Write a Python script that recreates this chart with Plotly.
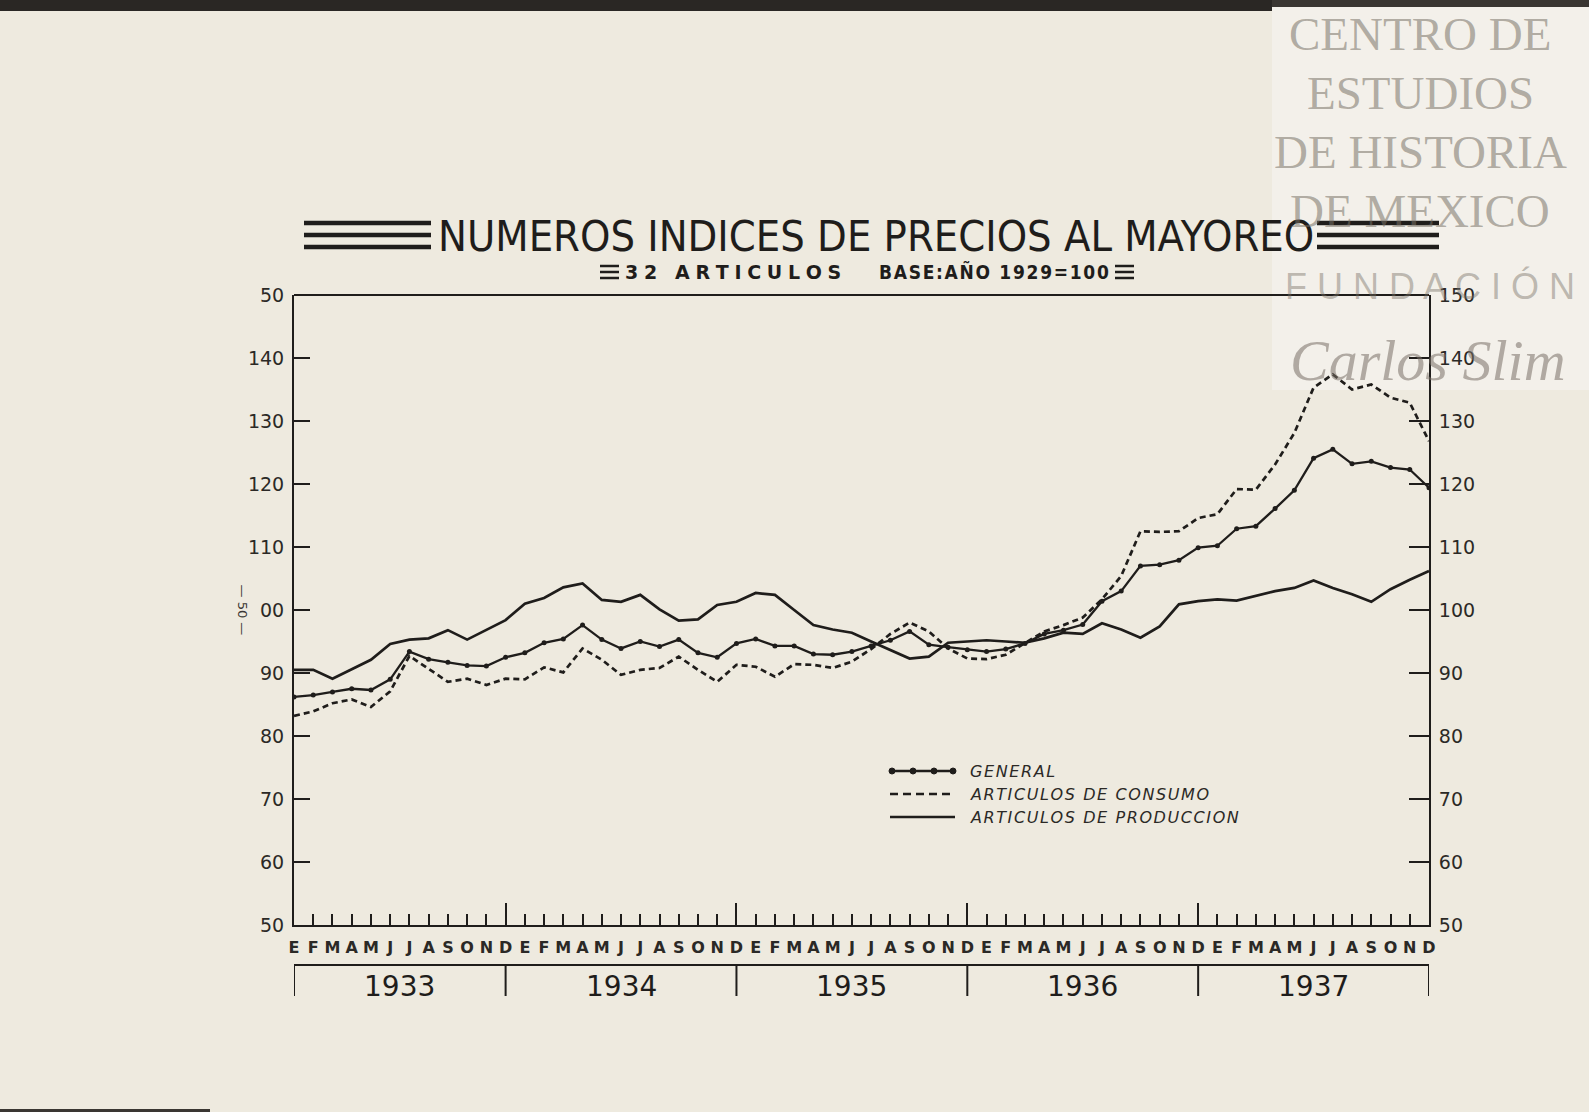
import plotly.graph_objects as go

years = ["1933", "1934", "1935", "1936", "1937"]
month_letters = ["E", "F", "M", "A", "M", "J", "J", "A", "S", "O", "N", "D"]

general = [86.2, 86.5, 87.0, 87.5, 87.3, 89.0, 93.4, 92.2, 91.7, 91.2, 91.1, 92.5,
           93.2, 94.8, 95.4, 97.6, 95.3, 93.9, 95.0, 94.2, 95.3, 93.2, 92.5, 94.7,
           95.4, 94.3, 94.3, 93.0, 92.9, 93.4, 94.3, 95.2, 96.6, 94.5, 94.1, 93.7,
           93.4, 93.8, 94.7, 96.2, 96.8, 97.7, 101.4, 103.0, 107.0, 107.2, 107.9, 109.9,
           110.2, 112.9, 113.3, 116.1, 119.0, 124.1, 125.5, 123.2, 123.6, 122.6, 122.3, 119.4]

consumo = [83.2, 83.9, 85.2, 85.8, 84.6, 87.1, 92.7, 90.6, 88.6, 89.1, 88.1, 89.1,
           89.0, 90.9, 90.1, 93.9, 92.1, 89.7, 90.5, 90.8, 92.6, 90.5, 88.6, 91.3,
           91.0, 89.4, 91.4, 91.3, 90.8, 91.8, 93.8, 96.2, 98.0, 96.6, 93.9, 92.3,
           92.2, 92.9, 94.7, 96.6, 97.6, 98.8, 101.7, 105.4, 112.5, 112.4, 112.5, 114.6,
           115.2, 119.2, 119.1, 123.1, 128.1, 135.3, 137.4, 135.0, 135.8, 133.7, 132.9, 126.8]

produccion = [90.5, 90.5, 89.1, 90.6, 92.1, 94.6, 95.3, 95.5, 96.8, 95.3, 96.8, 98.4,
              101.0, 101.9, 103.6, 104.2, 101.6, 101.3, 102.4, 100.1, 98.3, 98.5, 100.8, 101.3,
              102.7, 102.4, 100.0, 97.6, 96.9, 96.4, 95.0, 93.6, 92.3, 92.6, 94.8, 95.0,
              95.2, 95.0, 94.8, 95.5, 96.4, 96.2, 97.9, 96.9, 95.6, 97.4, 100.9, 101.4,
              101.7, 101.5, 102.2, 103.0, 103.5, 104.7, 103.5, 102.5, 101.3, 103.3, 104.8, 106.2]

left_ticks = [150, 140, 130, 120, 110, 100, 90, 80, 70, 60, 50]
left_tick_text = ["50", "140", "130", "120", "110", "00", "90", "80", "70", "60", "50"]
right_tick_text = ["150", "140", "130", "120", "110", "100", "90", "80", "70", "60", "50"]

title_text = "NUMEROS INDICES DE PRECIOS AL MAYOREO"
subtitle_left = "32 ARTICULOS"
subtitle_right = "BASE:AÑO 1929=100"
legend_names = ["GENERAL", "ARTICULOS DE CONSUMO", "ARTICULOS DE PRODUCCION"]
watermark_lines = ["CENTRO DE", "ESTUDIOS", "DE HISTORIA", "DE MEXICO"]

n = len(general)
x = list(range(n))
tick_text = month_letters * len(years)
dec_idx = [i for i in x if tick_text[i] == "D"]

INK = "#1f1d1b"
BG = "#eeeadf"
AXFONT = dict(family="DejaVu Sans", size=19, color="#2b2926")
WM = "rgba(120,112,102,0.55)"

fig = go.Figure()
fig.add_trace(go.Scatter(x=x, y=produccion, mode="lines", name=legend_names[2],
                         line=dict(color=INK, width=2.7), showlegend=False))
fig.add_trace(go.Scatter(x=x, y=consumo, mode="lines", name=legend_names[1],
                         line=dict(color=INK, width=2.7, dash="6px,4px"), showlegend=False))
fig.add_trace(go.Scatter(x=x, y=general, mode="lines+markers", name=legend_names[0],
                         line=dict(color=INK, width=2.3),
                         marker=dict(size=5, color=INK), showlegend=False))
# invisible trace to activate secondary axes
fig.add_trace(go.Scatter(x=[x[0]], y=[general[0]], xaxis="x2", yaxis="y2",
                         mode="markers", marker=dict(opacity=0), showlegend=False,
                         hoverinfo="skip"))

fig.update_layout(
    width=1589, height=1112,
    paper_bgcolor=BG, plot_bgcolor=BG,
    margin=dict(l=294, r=160, t=295, b=187),
    xaxis=dict(range=[0, n - 1], tickvals=x, ticktext=tick_text, ticks="inside",
               ticklen=11, tickwidth=1.6, tickcolor=INK, showgrid=False, zeroline=False,
               showline=True, linecolor=INK, linewidth=2, mirror=False,
               tickfont=dict(family="DejaVu Sans", size=16, color="#2b2926", weight="bold"),
               ticklabelstandoff=7, fixedrange=True),
    xaxis2=dict(range=[0, n - 1], overlaying="x", side="bottom", tickvals=dec_idx,
                ticktext=[""] * len(dec_idx), ticks="inside", ticklen=22, tickwidth=1.6,
                tickcolor=INK, showgrid=False, zeroline=False, showline=False),
    yaxis=dict(range=[50, 150], tickvals=left_ticks, ticktext=left_tick_text,
               ticks="inside", ticklen=16, tickwidth=1.6, tickcolor=INK,
               showgrid=False, zeroline=False, showline=True, linecolor=INK,
               linewidth=2, mirror=False, tickfont=AXFONT, ticklabelstandoff=4),
    yaxis2=dict(range=[50, 150], overlaying="y", side="right", tickvals=left_ticks,
                ticktext=right_tick_text, ticks="inside", ticklen=20, tickwidth=1.6,
                tickcolor=INK, showgrid=False, zeroline=False, showline=True,
                linecolor=INK, linewidth=2, tickfont=AXFONT, ticklabelstandoff=4),
    showlegend=False,
)


def px_x(px):
    return (px - 294) / (1429 - 294)


def px_y(py):
    return (925 - py) / (925 - 295)


shapes = []
# photo background details
shapes.append(dict(type="rect", xref="paper", yref="paper", x0=px_x(1272), x1=px_x(1600),
                   y0=px_y(390), y1=px_y(-5), fillcolor="#f3f0ea", line=dict(width=0),
                   layer="below"))
shapes.append(dict(type="rect", xref="paper", yref="paper", x0=px_x(-5), x1=px_x(1272),
                   y0=px_y(11), y1=px_y(-5), fillcolor="#2a2724", line=dict(width=0),
                   layer="below"))
shapes.append(dict(type="rect", xref="paper", yref="paper", x0=px_x(1272), x1=px_x(1600),
                   y0=px_y(7), y1=px_y(-5), fillcolor="#3a3632", line=dict(width=0),
                   layer="below"))
shapes.append(dict(type="rect", xref="paper", yref="paper", x0=px_x(-5), x1=px_x(210),
                   y0=px_y(1120), y1=px_y(1109), fillcolor="#3a3632", line=dict(width=0),
                   layer="below"))
# top frame line
shapes.append(dict(type="line", xref="paper", yref="paper", x0=0, x1=1, y0=1, y1=1,
                   line=dict(color=INK, width=2)))
# year bracket below month labels
shapes.append(dict(type="line", xref="x", yref="paper", x0=0, x1=n - 1, y0=px_y(965),
                   y1=px_y(965), line=dict(color=INK, width=2)))
for xv in [0] + dec_idx:
    shapes.append(dict(type="line", xref="x", yref="paper", x0=xv, x1=xv, y0=px_y(965),
                       y1=px_y(996), line=dict(color=INK, width=2)))

# title decorative bars
for (xa, xb) in [(304, 431), (1317, 1439)]:
    for yy in [223, 235, 247]:
        shapes.append(dict(type="line", xref="paper", yref="paper", x0=px_x(xa), x1=px_x(xb),
                           y0=px_y(yy), y1=px_y(yy), line=dict(color=INK, width=4.5)))
for (xa, xb) in [(600, 619), (1115, 1134)]:
    for yy in [266, 272, 278]:
        shapes.append(dict(type="line", xref="paper", yref="paper", x0=px_x(xa), x1=px_x(xb),
                           y0=px_y(yy), y1=px_y(yy), line=dict(color=INK, width=2.5)))

# custom legend samples
leg_rows = [771, 794, 817]
lx0, lx1 = 890, 955
shapes.append(dict(type="line", xref="paper", yref="paper", x0=px_x(lx0), x1=px_x(lx1),
                   y0=px_y(leg_rows[0]), y1=px_y(leg_rows[0]), line=dict(color=INK, width=2.4)))
for cx in [892, 913, 934, 953]:
    shapes.append(dict(type="circle", xref="paper", yref="paper",
                       x0=px_x(cx - 3), x1=px_x(cx + 3), y0=px_y(leg_rows[0] + 3),
                       y1=px_y(leg_rows[0] - 3), fillcolor=INK, line=dict(color=INK, width=1)))
shapes.append(dict(type="line", xref="paper", yref="paper", x0=px_x(lx0), x1=px_x(lx1),
                   y0=px_y(leg_rows[1]), y1=px_y(leg_rows[1]),
                   line=dict(color=INK, width=2.6, dash="8px,5px")))
shapes.append(dict(type="line", xref="paper", yref="paper", x0=px_x(lx0), x1=px_x(lx1),
                   y0=px_y(leg_rows[2]), y1=px_y(leg_rows[2]), line=dict(color=INK, width=2.4)))
fig.update_layout(shapes=shapes)

HAIR = "\u200a"
THIN = "\u2009"


def spaced(s, sep=HAIR):
    return sep.join(list(s))


ann = []
ann.append(dict(text=title_text, xref="paper", yref="paper", x=px_x(876), y=px_y(236),
                showarrow=False, font=dict(family="DejaVu Sans Condensed", size=43, color=INK),
                xanchor="center", yanchor="middle"))
ann.append(dict(text="<b>" + spaced(subtitle_left, THIN + HAIR) + "</b>", xref="paper",
                yref="paper", x=px_x(623), y=px_y(272), showarrow=False,
                font=dict(family="DejaVu Sans", size=19, color=INK),
                xanchor="left", yanchor="middle"))
ann.append(dict(text="<b>" + spaced(subtitle_right) + "</b>", xref="paper", yref="paper",
                x=px_x(1111), y=px_y(272), showarrow=False,
                font=dict(family="DejaVu Sans Condensed", size=19, color=INK),
                xanchor="right", yanchor="middle"))
for k, nm in enumerate(legend_names):
    ann.append(dict(text="<i>" + spaced(nm) + "</i>", xref="paper", yref="paper",
                    x=px_x(968), y=px_y(leg_rows[k]), showarrow=False, xanchor="left",
                    yanchor="middle",
                    font=dict(family="DejaVu Sans", size=16, color="#2b2926")))
# year labels
bounds = [0] + dec_idx
for k, yr in enumerate(years):
    ann.append(dict(text=yr, xref="x", yref="paper", x=(bounds[k] + bounds[k + 1]) / 2,
                    y=px_y(986), showarrow=False, yanchor="middle",
                    font=dict(family="DejaVu Sans", size=28, color=INK)))
# page number on the left margin
ann.append(dict(text="— 50 —", xref="paper", yref="paper", x=px_x(233), y=px_y(610),
                showarrow=False, textangle=90,
                font=dict(family="DejaVu Sans", size=13, color="#3a3733")))
# watermark
for k, t in enumerate(watermark_lines):
    ann.append(dict(text=t, xref="paper", yref="paper", x=px_x(1420), y=px_y(34 + 59 * k),
                    showarrow=False, xanchor="center", yanchor="middle",
                    font=dict(family="Liberation Serif", size=47, color=WM)))
ann.append(dict(text="F U N D A C I Ó N", xref="paper", yref="paper", x=px_x(1430), y=px_y(286),
                showarrow=False, xanchor="center", yanchor="middle",
                font=dict(family="Liberation Sans", size=36, color="rgba(120,112,102,0.45)")))
ann.append(dict(text="<i>Carlos Slim</i>", xref="paper", yref="paper", x=px_x(1428), y=px_y(360),
                showarrow=False, xanchor="center", yanchor="middle",
                font=dict(family="Liberation Serif", size=58, color=WM)))
fig.update_layout(annotations=ann)

fig.write_html("out.html", config={"displayModeBar": False},
               post_script="document.body.style.margin='0';"
                           "document.body.style.background='#eeeadf';"
                           "document.body.style.overflow='hidden';")
